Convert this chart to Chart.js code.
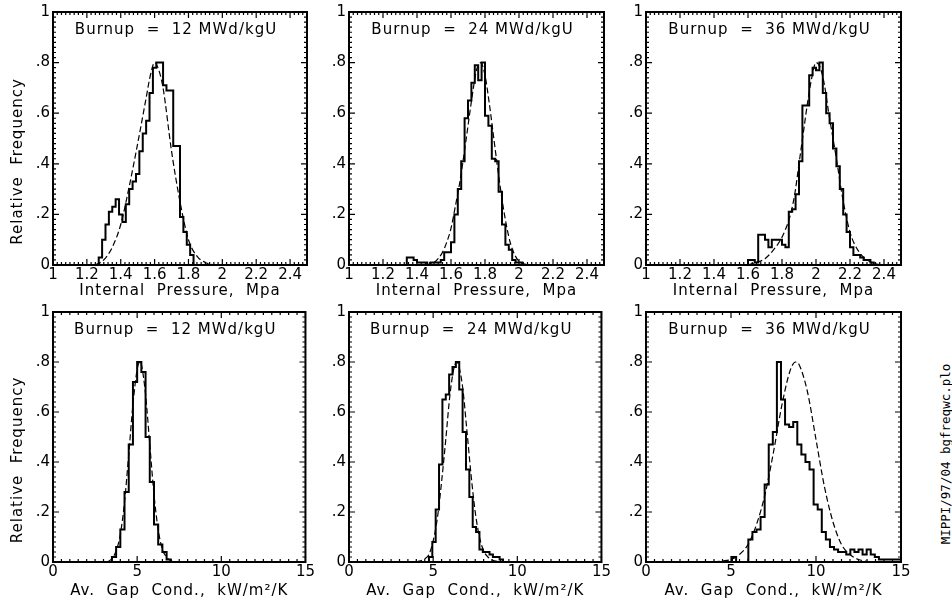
<!DOCTYPE html>
<html>
<head>
<meta charset="utf-8">
<script src="https://cdn.jsdelivr.net/npm/chart.js@4.4.1/dist/chart.umd.min.js"></script>
<style>
  html, body { margin: 0; padding: 0; background: #fff; }
  #wrap { position: relative; width: 952px; height: 601px; overflow: hidden; background: #fff; }
  #wrap canvas { position: absolute; }
  #stamp {
    position: absolute; left: 945px; top: 454px;
    transform: translate(-50%, -50%) rotate(-90deg);
    font: 12.5px "DejaVu Sans Mono", monospace; white-space: nowrap; color: #000;
  }
</style>
</head>
<body>
<div id="wrap">
  <canvas id="p1" width="316" height="300" style="left:0px;top:0px"></canvas>
  <canvas id="p2" width="296" height="300" style="left:316px;top:0px"></canvas>
  <canvas id="p3" width="300" height="300" style="left:612px;top:0px"></canvas>
  <canvas id="p4" width="316" height="301" style="left:0px;top:300px"></canvas>
  <canvas id="p5" width="296" height="301" style="left:316px;top:300px"></canvas>
  <canvas id="p6" width="300" height="301" style="left:612px;top:300px"></canvas>
  <div id="stamp">MIPPI/97/04 bgfreqwc.plo</div>
</div>
<script>
// ---- values ----

// axis ticks
const pressTicks = [1, 1.2, 1.4, 1.6, 1.8, 2, 2.2, 2.4];
const gapTicks = [0, 5, 10, 15];
const freqTicks = [0, 0.2, 0.4, 0.6, 0.8, 1];
const freqTickLabels = ['0', '.2', '.4', '.6', '.8', '1'];

// internal pressure histograms (relative frequency per bin)
const pressBinWidth = 0.02;
const press12Start = 1.27;
const press12Freq = [0.03, 0.10, 0.16, 0.21, 0.23, 0.26, 0.20, 0.17, 0.24, 0.30, 0.33, 0.36, 0.45, 0.52,
  0.57, 0.68, 0.78, 0.80, 0.80, 0.71, 0.69, 0.69, 0.47, 0.47, 0.19, 0.13, 0.08, 0.04];
const press24Start = 1.34;
const press24Freq = [0.03, 0.03, 0.02, 0.01, 0.01, 0.01, 0.00, 0.01, 0.01, 0.01, 0.02, 0.05, 0.05, 0.09,
  0.20, 0.30, 0.41, 0.58, 0.65, 0.72, 0.79, 0.73, 0.80, 0.59, 0.55, 0.42, 0.41, 0.29, 0.16, 0.08,
  0.06, 0.02, 0.01, 0.01];
const press36Start = 1.60;
const press36Freq = [0.02, 0.02, 0.01, 0.12, 0.12, 0.10, 0.07, 0.10, 0.10, 0.10, 0.08, 0.07, 0.21, 0.22,
  0.28, 0.41, 0.63, 0.63, 0.75, 0.78, 0.77, 0.80, 0.68, 0.60, 0.56, 0.46, 0.39, 0.30, 0.20, 0.13,
  0.07, 0.04, 0.04, 0.03, 0.02, 0.02, 0.01];

// gap conductance histograms
const gap12Start = 3.5, gap12Width = 0.25;
const gap12Freq = [0.02, 0.06, 0.13, 0.28, 0.47, 0.72, 0.80, 0.76, 0.50, 0.32, 0.15, 0.07, 0.04, 0.01];
const gap24Start = 4.75, gap24Width = 0.2;
const gap24Freq = [0.02, 0.08, 0.21, 0.39, 0.65, 0.67, 0.75, 0.78, 0.80, 0.69, 0.52, 0.37, 0.26, 0.14,
  0.12, 0.05, 0.04, 0.04, 0.03, 0.02, 0.02, 0.01];
const gap36Start = 5.06, gap36Width = 0.24;
const gap36Freq = [0.02, 0.00, 0.00, 0.00, 0.09, 0.12, 0.13, 0.18, 0.31, 0.47, 0.52, 0.80, 0.65, 0.55,
  0.54, 0.56, 0.47, 0.43, 0.40, 0.37, 0.23, 0.21, 0.12, 0.09, 0.06, 0.05, 0.04, 0.04, 0.03, 0.05,
  0.04, 0.05, 0.03, 0.05, 0.03, 0.02, 0.01, 0.01, 0.01, 0.01, 0.01, 0.01];

// dashed normal fits, points picked along each curve
const press12FitX = [1.25, 1.30, 1.35, 1.40, 1.45, 1.50, 1.55, 1.575, 1.60, 1.625, 1.65, 1.70, 1.75, 1.80, 1.85, 1.90, 1.95];
const press12FitY = [0.00, 0.02, 0.07, 0.16, 0.31, 0.48, 0.66, 0.75, 0.80, 0.77, 0.70, 0.45, 0.25, 0.10, 0.035, 0.01, 0.00];
const press24FitX = [1.45, 1.50, 1.55, 1.575, 1.60, 1.625, 1.65, 1.675, 1.70, 1.725, 1.75, 1.775, 1.80, 1.825,
  1.85, 1.875, 1.90, 1.925, 1.95, 1.975, 2.00, 2.05];
const press24FitY = [0.00, 0.01, 0.05, 0.09, 0.145, 0.23, 0.32, 0.43, 0.55, 0.67, 0.77, 0.80, 0.75, 0.64,
  0.51, 0.38, 0.26, 0.16, 0.085, 0.04, 0.015, 0.00];
const press36FitX = [1.60, 1.65, 1.70, 1.75, 1.80, 1.85, 1.875, 1.90, 1.925, 1.95, 1.975, 2.00, 2.025, 2.05,
  2.075, 2.10, 2.125, 2.15, 2.20, 2.25, 2.30, 2.35, 2.40];
const press36FitY = [0.00, 0.01, 0.025, 0.06, 0.11, 0.20, 0.28, 0.40, 0.52, 0.64, 0.74, 0.80, 0.78, 0.71,
  0.60, 0.50, 0.40, 0.29, 0.13, 0.055, 0.02, 0.005, 0.00];
const gap12FitX = [3.25, 3.5, 3.75, 4.0, 4.25, 4.5, 4.75, 5.0, 5.15, 5.25, 5.5, 5.75, 6.0, 6.25, 6.5, 6.75, 7.0, 7.25];
const gap12FitY = [0.00, 0.014, 0.044, 0.11, 0.24, 0.43, 0.63, 0.77, 0.80, 0.79, 0.67, 0.47, 0.27, 0.13, 0.05, 0.02, 0.005, 0.00];
const gap24FitX = [4.0, 4.5, 4.75, 5.0, 5.25, 5.5, 5.75, 6.0, 6.25, 6.4, 6.5, 6.75, 7.0, 7.25, 7.5, 7.75, 8.0, 8.25, 8.5, 9.0];
const gap24FitY = [0.00, 0.013, 0.03, 0.084, 0.175, 0.32, 0.49, 0.67, 0.78, 0.80, 0.79, 0.70, 0.53, 0.35, 0.20, 0.10, 0.045, 0.02, 0.008, 0.00];
const gap36FitX = [4.0, 4.5, 5.0, 5.5, 6.0, 6.5, 7.0, 7.5, 8.0, 8.5, 8.8, 9.0, 9.5, 10.0, 10.5, 11.0, 11.5, 12.0, 12.5, 13.0, 13.5];
const gap36FitY = [0.00, 0.004, 0.01, 0.03, 0.07, 0.15, 0.27, 0.44, 0.63, 0.77, 0.80, 0.79, 0.68, 0.49, 0.30, 0.16, 0.07, 0.03, 0.01, 0.003, 0.00];

// ---- layout ----
Chart.defaults.font.family = '"DejaVu Sans", sans-serif';
Chart.defaults.font.size = 15;
Chart.defaults.color = '#000';

const TITLE_FONT = '15px "DejaVu Sans", sans-serif';

// columns: y axis box width and right padding; rows: top padding and x axis box height
const cols = [{yw: 53, pr: 9}, {yw: 33, pr: 8}, {yw: 34, pr: 11}];
const rows = [{pt: 12, xh: 35, titleOff: 26}, {pt: 8, xh: 39, titleOff: 29}];

const pressAxis = {min: 1, max: 2.5, ticks: pressTicks, minor: 0.025, perMajor: 8, title: 'Internal  Pressure,  Mpa'};
const gapAxis = {min: 0, max: 15, ticks: gapTicks, minor: 0.5, perMajor: 10, title: 'Av.  Gap  Cond.,  kW/m\u00b2/K'};

// box, inward ticks on all four sides, and the text labels
const framePlugin = {
  id: 'frame',
  afterDraw(chart, args, o) {
    const ctx = chart.ctx;
    const a = chart.chartArea;
    const xs = chart.scales.x, ys = chart.scales.y;
    ctx.save();
    ctx.strokeStyle = '#000';
    ctx.lineWidth = 1.2;
    ctx.beginPath();
    const nx = Math.round((xs.max - xs.min) / o.xMinor);
    for (let i = 0; i <= nx; i++) {
      const px = xs.getPixelForValue(xs.min + i * o.xMinor);
      const len = i % o.xPerMajor === 0 ? 6 : 3;
      ctx.moveTo(px, a.bottom); ctx.lineTo(px, a.bottom - len);
      ctx.moveTo(px, a.top); ctx.lineTo(px, a.top + len);
    }
    const ny = Math.round((ys.max - ys.min) / o.yMinor);
    for (let i = 0; i <= ny; i++) {
      const py = ys.getPixelForValue(ys.min + i * o.yMinor);
      const len = i % o.yPerMajor === 0 ? 6 : 3;
      ctx.moveTo(a.left, py); ctx.lineTo(a.left + len, py);
      ctx.moveTo(a.right, py); ctx.lineTo(a.right - len, py);
    }
    ctx.stroke();
    ctx.lineWidth = 2;
    ctx.strokeRect(a.left, a.top, a.right - a.left, a.bottom - a.top);

    ctx.fillStyle = '#000';
    ctx.font = TITLE_FONT;
    ctx.letterSpacing = '1px';
    ctx.textAlign = 'center';
    const cx = (a.left + a.right) / 2;
    ctx.textBaseline = 'alphabetic';
    ctx.fillText(o.label, cx - 4, a.top + 22);
    ctx.textBaseline = 'middle';
    ctx.fillText(o.xTitle, cx, a.bottom + o.xTitleOff);
    if (o.yTitle) {
      ctx.translate(18, (a.top + a.bottom) / 2 + 23);
      ctx.rotate(-Math.PI / 2);
      ctx.fillText(o.yTitle, 0, 0);
    }
    ctx.restore();
  }
};

function histPoints(start, width, freq) {
  const pts = [{x: start, y: 0}];
  freq.forEach((f, i) => pts.push({x: start + i * width, y: f}));
  pts.push({x: start + freq.length * width, y: 0});
  return pts;
}

function makePanel(p) {
  const col = cols[p.col], row = rows[p.row], ax = p.axis;
  const fit = p.fitX.map((x, i) => ({x: x, y: p.fitY[i]}));
  new Chart(document.getElementById(p.id), {
    type: 'line',
    data: {
      datasets: [
        {data: histPoints(p.start, p.width, p.freq), stepped: true, borderColor: '#000', borderWidth: 2,
          pointRadius: 0, fill: false},
        {data: fit, borderColor: '#000', borderWidth: 1.2, borderDash: [6, 3], pointRadius: 0,
          cubicInterpolationMode: 'monotone', fill: false}
      ]
    },
    options: {
      responsive: false,
      animation: false,
      devicePixelRatio: 1,
      layout: {padding: {top: row.pt, right: col.pr, left: 0, bottom: 0}},
      plugins: {
        legend: {display: false},
        tooltip: {enabled: false},
        frame: {
          xMinor: ax.minor, xPerMajor: ax.perMajor, yMinor: 0.02, yPerMajor: 10,
          label: 'Burnup  =  ' + p.burnup + ' MWd/kgU',
          xTitle: ax.title, xTitleOff: row.titleOff,
          yTitle: p.col === 0 ? 'Relative  Frequency' : null
        }
      },
      scales: {
        x: {
          type: 'linear', min: ax.min, max: ax.max,
          afterBuildTicks: s => { s.ticks = ax.ticks.map(v => ({value: v})); },
          afterFit: s => { s.height = row.xh; },
          grid: {display: false, drawTicks: false, tickLength: 0}, border: {display: false},
          ticks: {padding: 1, maxRotation: 0, autoSkip: false, callback: v => String(+v.toFixed(2))}
        },
        y: {
          min: 0, max: 1,
          afterBuildTicks: s => { s.ticks = freqTicks.map(v => ({value: v})); },
          afterFit: s => { s.width = col.yw; },
          grid: {display: false, drawTicks: false, tickLength: 0}, border: {display: false},
          ticks: {padding: 3, autoSkip: false, callback: (v, i) => freqTickLabels[i]}
        }
      }
    },
    plugins: [framePlugin]
  });
}

const panels = [
  {id: 'p1', col: 0, row: 0, axis: pressAxis, burnup: 12, start: press12Start, width: pressBinWidth, freq: press12Freq, fitX: press12FitX, fitY: press12FitY},
  {id: 'p2', col: 1, row: 0, axis: pressAxis, burnup: 24, start: press24Start, width: pressBinWidth, freq: press24Freq, fitX: press24FitX, fitY: press24FitY},
  {id: 'p3', col: 2, row: 0, axis: pressAxis, burnup: 36, start: press36Start, width: pressBinWidth, freq: press36Freq, fitX: press36FitX, fitY: press36FitY},
  {id: 'p4', col: 0, row: 1, axis: gapAxis, burnup: 12, start: gap12Start, width: gap12Width, freq: gap12Freq, fitX: gap12FitX, fitY: gap12FitY},
  {id: 'p5', col: 1, row: 1, axis: gapAxis, burnup: 24, start: gap24Start, width: gap24Width, freq: gap24Freq, fitX: gap24FitX, fitY: gap24FitY},
  {id: 'p6', col: 2, row: 1, axis: gapAxis, burnup: 36, start: gap36Start, width: gap36Width, freq: gap36Freq, fitX: gap36FitX, fitY: gap36FitY}
];

panels.forEach(makePanel);
</script>
</body>
</html>
